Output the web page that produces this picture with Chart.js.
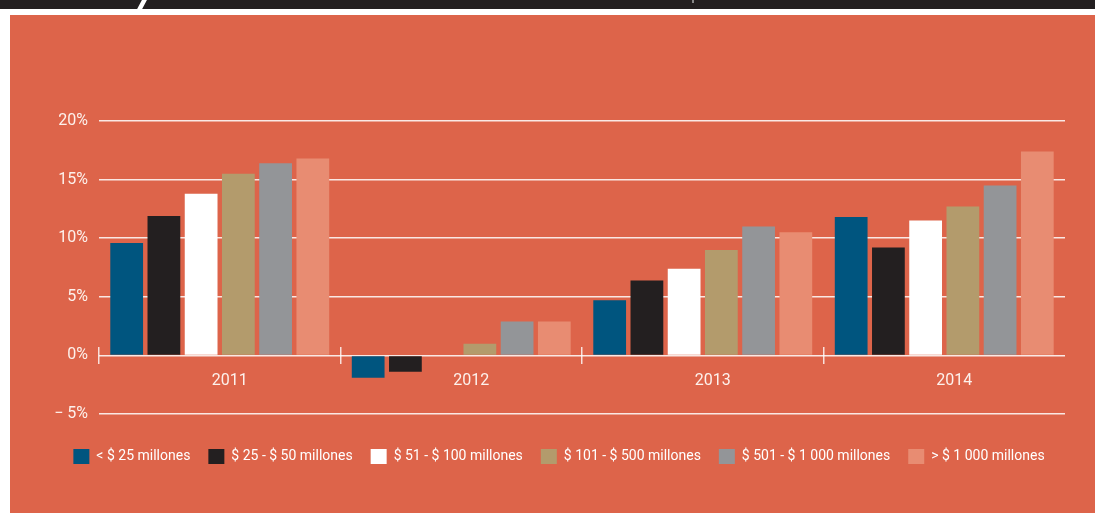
<!DOCTYPE html>
<html>
<head>
<meta charset="utf-8">
<script src="https://cdn.jsdelivr.net/npm/chart.js@4"></script>
<style>
  html, body { margin: 0; padding: 0; background: #fff; }
  body { width: 1095px; height: 513px; position: relative; overflow: hidden; }
  #band { position: absolute; left: 0; top: 0; width: 1095px; height: 9px; background: #231f20; }
  #slash { position: absolute; left: 139px; top: 0; width: 5px; height: 11px; background: #fff; transform: skewX(-28deg); }
  #dot { position: absolute; left: 692px; top: 0; width: 2px; height: 3px; background: #888; }
  #panel { position: absolute; left: 10px; top: 15px; width: 1085px; height: 498px; background: #dd644a; }
</style>
</head>
<body>
<div id="band"></div>
<div id="slash"></div>
<div id="dot"></div>
<div id="panel"><canvas id="chart"></canvas></div>
<script>
  // categories and series (values in %)
  const years = ['2011', '2012', '2013', '2014'];
  const seriesNames = [
    '< $ 25 millones',
    '$ 25 - $ 50 millones',
    '$ 51 - $ 100 millones',
    '$ 101 - $ 500 millones',
    '$ 501 - $ 1 000 millones',
    '> $ 1 000 millones'
  ];
  const under25 = [9.6, -1.9, 4.7, 11.8];
  const from25to50 = [11.9, -1.4, 6.4, 9.2];
  const from51to100 = [13.8, 0, 7.4, 11.5];
  const from101to500 = [15.5, 1.0, 9.0, 12.7];
  const from501to1000 = [16.4, 2.9, 11.0, 14.5];
  const over1000 = [16.8, 2.9, 10.5, 17.4];
  const yTickLabels = ['\u2212 5%', '0%', '5%', '10%', '15%', '20%'];

  const colors = ['#00557f', '#231f20', '#ffffff', '#b39b6c', '#939598', '#e88c72'];
  const values = [under25, from25to50, from51to100, from101to500, from501to1000, over1000];
  const textColor = '#fdf1ec';

  Chart.defaults.font.family = 'Roboto, sans-serif';

  const datasets = seriesNames.map(function(name, i) {
    return {
      label: name,
      data: values[i],
      backgroundColor: colors[i],
      borderWidth: 0,
      categoryPercentage: 0.925,
      barPercentage: 0.88
    };
  });

  new Chart(document.getElementById('chart'), {
    type: 'bar',
    data: { labels: years, datasets: datasets },
    options: {
      responsive: true,
      maintainAspectRatio: false,
      animation: false,
      layout: { padding: { left: 43, right: 30, top: 106, bottom: 39 } },
      plugins: {
        tooltip: { enabled: false },
        legend: {
          position: 'bottom',
          // empty title only used as a spacer above the legend row
          title: { display: true, text: '', font: { size: 10 }, padding: { top: 0, bottom: 5 } },
          labels: {
            color: '#ffffff',
            boxWidth: 16,
            boxHeight: 15,
            padding: 18,
            font: { size: 14 }
          }
        }
      },
      scales: {
        x: {
          position: { y: 0.75 },
          border: { display: false },
          grid: {
            offset: true,
            drawOnChartArea: false,
            drawTicks: true,
            tickLength: 17,
            lineWidth: 1.5,
            color: function(ctx) { return ctx.tick ? 'rgba(255,255,255,0.8)' : 'rgba(0,0,0,0)'; }
          },
          ticks: { color: textColor, font: { size: 16 }, padding: 8, labelOffset: 10 }
        },
        y: {
          min: -5,
          max: 20,
          afterFit: function(scale) { scale.width = 46; },
          border: { display: false },
          grid: { color: 'rgba(255,255,255,0.85)', lineWidth: 1.5, drawTicks: false },
          ticks: {
            stepSize: 5,
            color: textColor,
            font: { size: 16 },
            padding: 11,
            callback: function(v, i) { return yTickLabels[i]; }
          }
        }
      }
    }
  });
</script>
</body>
</html>
